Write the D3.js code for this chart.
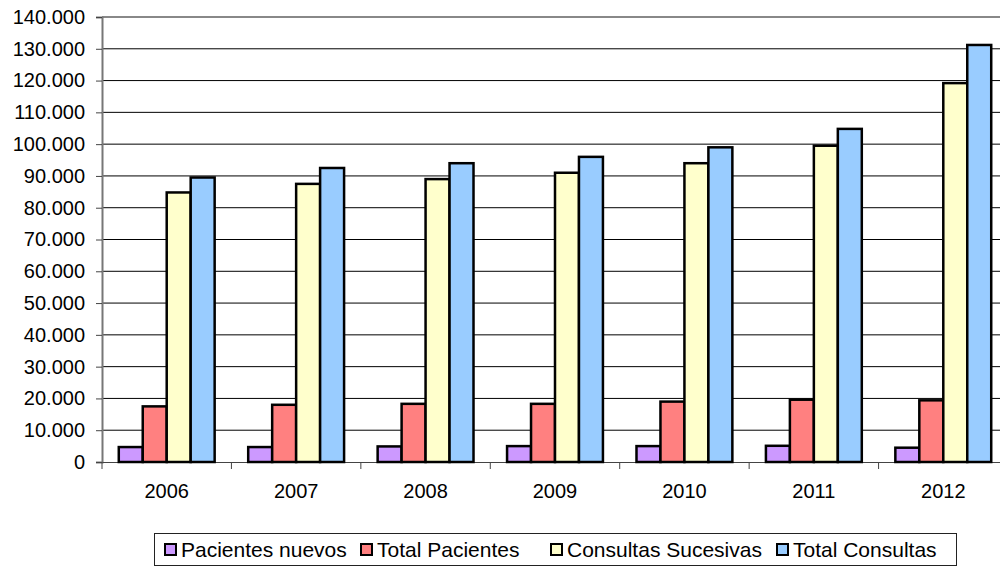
<!DOCTYPE html>
<html><head><meta charset="utf-8">
<script src="https://cdn.jsdelivr.net/npm/d3@7"></script>
<style>body{margin:0;background:#fff}svg{display:block}text{font-family:"Liberation Sans",Arial,sans-serif;fill:#000}</style>
</head><body><svg id="c" width="1000" height="568"></svg>
<script>
const years = ["2006","2007","2008","2009","2010","2011","2012"];
const seriesNames = ["Pacientes nuevos","Total Pacientes","Consultas Sucesivas","Total Consultas"];
const pacientesNuevos = [4700, 4700, 4900, 5000, 5000, 5100, 4500];
const totalPacientes = [17500, 18000, 18300, 18300, 19000, 19600, 19400];
const consultasSucesivas = [84800, 87500, 89000, 91000, 94000, 99500, 119200];
const totalConsultas = [89500, 92500, 94000, 96000, 99000, 104800, 131200];
const yTicks = [0,10000,20000,30000,40000,50000,60000,70000,80000,90000,100000,110000,120000,130000,140000];
const colors = ["#cc99ff","#ff8080","#ffffcc","#99ccff"];
const seriesValues = [pacientesNuevos, totalPacientes, consultasSucesivas, totalConsultas];

(function(){
const svg = d3.select("#c");
const mLeft = 102, mTop = 17, mBottom = 462, mRight = 1008;
const x = d3.scaleBand().domain(years).range([mLeft, mRight]).paddingInner(0).paddingOuter(0);
const y = d3.scaleLinear().domain([0,140000]).range([mBottom, mTop]);
const inner = d3.scaleBand().domain(d3.range(4)).range([0, x.bandwidth()]).paddingInner(0).paddingOuter(0.7);
const fmt = v => d3.format(",")(v).replace(/,/g, ".");

svg.append("g").selectAll("line").data(yTicks.filter(t => t > 0 && t < 140000)).join("line")
  .attr("x1", mLeft).attr("x2", mRight).attr("y1", d => y(d)).attr("y2", d => y(d))
  .attr("stroke", "#000").attr("stroke-width", 1);
svg.append("line").attr("x1", mLeft).attr("x2", mRight).attr("y1", y(140000)).attr("y2", y(140000))
  .attr("stroke", "#888").attr("stroke-width", 2);

const yAxis = d3.axisLeft(y).tickValues(yTicks).tickFormat(fmt).tickSize(6).tickPadding(6);
const gy = svg.append("g").attr("transform", `translate(${mLeft},0)`).call(yAxis);
gy.select(".domain").attr("stroke", "#777").attr("stroke-width", 2);
gy.selectAll(".tick line").attr("stroke", "#444");
gy.selectAll("text").style("font-size", "20px").attr("dx", "-5");

const xAxis = d3.axisBottom(x).tickSize(0).tickPadding(22);
const gx = svg.append("g").attr("transform", `translate(0,${mBottom})`).call(xAxis);
gx.select(".domain").attr("stroke", "#444").attr("stroke-width", 1);
gx.selectAll("text").style("font-size", "20px");
svg.append("g").selectAll("line").data(years).join("line")
  .attr("x1", d => x(d)).attr("x2", d => x(d)).attr("y1", mBottom).attr("y2", mBottom + 7)
  .attr("stroke", "#444");

years.forEach((yr, i) => {
  seriesValues.forEach((vals, s) => {
    svg.append("rect")
      .attr("x", x(yr) + inner(s))
      .attr("y", y(vals[i]))
      .attr("width", inner.bandwidth())
      .attr("height", mBottom - y(vals[i]))
      .attr("fill", colors[s])
      .attr("stroke", "#000").attr("stroke-width", 2.5);
  });
});

const lg = svg.append("g");
lg.append("rect").attr("x", 154.5).attr("y", 533.5).attr("width", 802).attr("height", 32)
  .attr("fill", "#fff").attr("stroke", "#222").attr("stroke-width", 1);
const lx = [181, 377, 567, 793];
seriesNames.forEach((n, s) => {
  lg.append("rect").attr("x", lx[s] - 16).attr("y", 544).attr("width", 11).attr("height", 11)
    .attr("fill", colors[s]).attr("stroke", "#000").attr("stroke-width", 2);
  lg.append("text").attr("x", lx[s]).attr("y", 557).style("font-size", "21px").text(n);
});
})();
</script></body></html>
